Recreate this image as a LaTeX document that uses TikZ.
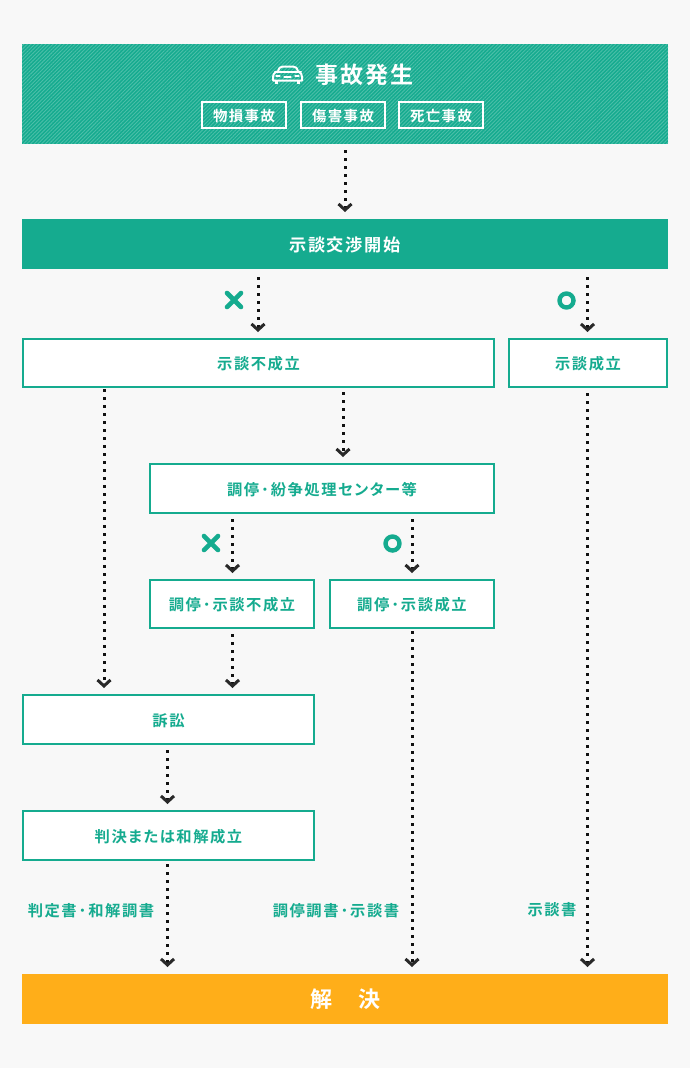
\documentclass[tikz,border=0pt]{standalone}
\usepackage{fontspec}
\setmainfont{Noto Sans CJK JP}[RawFeature={+palt},LetterSpace=10,BoldFont={Noto Sans CJK JP Bold}]
\usetikzlibrary{arrows.meta,patterns.meta,shapes.misc}
\definecolor{teal}{HTML}{15AB8F}
\definecolor{tealpale}{HTML}{4CBFA9}
\definecolor{amber}{HTML}{FFAE19}
\definecolor{paper}{HTML}{F8F8F8}
\definecolor{ink}{HTML}{111111}
% lighter, slightly spaced separator dot between words
\newcommand{\sepdot}{\kern2pt{\mdseries ・}\kern2pt}
\tikzset{
  x=1pt,y=-1pt,
  label15/.style={font=\fontsize{15.3}{15.3}\selectfont\bfseries,text=teal,inner sep=0pt,text height=15pt,text depth=1.2pt},
  stepbox/.style={draw=teal,line width=2pt,fill=white,outer sep=0pt,inner sep=0pt,label15},
  band/.style={fill=teal,minimum width=646pt,minimum height=50pt,outer sep=0pt,text=white,inner sep=0pt},
  tagbox/.style={draw=white,line width=2pt,minimum width=84pt,minimum height=26pt,outer sep=1pt,inner sep=0pt,
    text=white,font=\fontsize{14.4}{14.4}\selectfont\bfseries,text height=13.5pt,text depth=1pt},
  flow/.style={draw=ink,line width=3pt,dash pattern=on 3pt off 5pt,shorten >=7pt,
    -{Straight Barb[length=6pt,width=13pt,line width=3pt,color=ink!90]}},
  nomark/.style={cross out,draw=teal,line width=4.6pt,minimum size=14pt,inner sep=0pt,outer sep=0pt,line cap=round},
  yesmark/.style={circle,draw=teal,line width=4.4pt,minimum size=14pt,inner sep=0pt,outer sep=0pt},
  gap/.style={shorten <=#1pt}
}
\begin{document}
\begin{tikzpicture}
\useasboundingbox (0,0) rectangle (690,1068);
\fill[paper] (0,0) rectangle (690,1068);

% vertical runs of the connectors
\coordinate (c104) at (104,0);
\coordinate (c167) at (167.5,0);
\coordinate (c232) at (232.5,0);
\coordinate (c258) at (258,0);
\coordinate (c343) at (343,0);
\coordinate (c345) at (345,0);
\coordinate (c411) at (412,0);
\coordinate (c587) at (587.5,0);

% header band with its hatching, trimmed to a clean lower edge
\fill[teal] (22,44) rectangle (668,144);
\fill[pattern={Lines[angle=45,distance=2.6pt,line width=0.9pt]},pattern color=tealpale] (22,44) rectangle (668,144);
\fill[paper] (20,144) rectangle (670,147);
\coordinate (head) at (345,144);
\node[text=white,inner sep=0pt,font=\fontsize{23}{23}\selectfont\bfseries] (title) at (364.5,75) {事故発生};
\node[tagbox] (tagA) at (244,115) {物損事故};
\node[tagbox] (tagB) at (343,115) {傷害事故};
\node[tagbox] (tagC) at (441,115) {死亡事故};

% car icon
\begin{scope}[draw=white,line width=2pt,line join=round,line cap=round]
  \draw (278,71.5) .. controls (279,68) and (280,66.5) .. (283,66.5) -- (293,66.5)
        .. controls (296,66.5) and (297,68) .. (298,71.5);
  \draw (275,71.5) -- (301,71.5);
  \draw (276,71.5) .. controls (274,73) and (273,75) .. (273,77) -- (273,80.5) -- (302,80.5) -- (302,77)
        .. controls (302,75) and (301,73) .. (299,71.5);
  \draw[line width=2.8pt,line cap=butt] (276.5,80.5) -- (276.5,84) (298.5,80.5) -- (298.5,84);
  \draw[line width=1.2pt] (276,76) -- (280,76) (284,77) -- (291,77) (295,76) -- (299,76);
\end{scope}

% process steps
\node[band,font=\fontsize{17.2}{17.2}\selectfont\bfseries,text height=16.5pt,text depth=1.2pt] (talks) at (345,244) {示談交渉開始};
\node[stepbox,minimum width=471pt,minimum height=48pt] (fail) at (258.5,363) {示談不成立};
\node[stepbox,minimum width=158pt,minimum height=48pt] (ok) at (588,363) {示談成立};
\node[stepbox,minimum width=344pt,minimum height=49pt] (adr) at (322,488.5) {調停\sepdot 紛争処理センター等};
\node[stepbox,minimum width=164pt,minimum height=48pt] (adrfail) at (232,604) {調停\sepdot 示談不成立};
\node[stepbox,minimum width=164pt,minimum height=48pt] (adrok) at (412,604) {調停\sepdot 示談成立};
\node[stepbox,minimum width=291pt,minimum height=49pt] (suit) at (168.5,719.5) {訴訟};
\node[stepbox,minimum width=291pt,minimum height=49pt] (ruling) at (168.5,835.5) {判決または和解成立};
\node[band,fill=amber,font=\fontsize{22}{22}\selectfont\bfseries] (end) at (345,999) {\hspace{1pt}解　決};

% outcome marks
\node[nomark] (noA) at (234,300) {};
\node[yesmark] (yesA) at (566.5,300.5) {};
\node[nomark] (noB) at (211,543) {};
\node[yesmark] (yesB) at (392.5,543.5) {};

% document labels
\node[label15] (docA) at (91,910) {判定書\sepdot 和解調書};
\node[label15] (docB) at (336,910) {調停調書\sepdot 示談書};
\node[label15] (docC) at (552,909) {示談書};

% connectors
\draw[flow,gap=6] (head -| c345) -- (talks.north -| c345);
\draw[flow,gap=8] (talks.south -| c258) -- (fail.north -| c258);
\draw[flow,gap=8] (talks.south -| c587) -- (ok.north -| c587);
\draw[flow,gap=2] (fail.south -| c104) -- (suit.north -| c104);
\draw[flow,gap=5] (fail.south -| c343) -- (adr.north -| c343);
\draw[flow,gap=6] (ok.south -| c587) -- (end.north -| c587);
\draw[flow,gap=6] (adr.south -| c232) -- (adrfail.north -| c232);
\draw[flow,gap=6] (adr.south -| c411) -- (adrok.north -| c411);
\draw[flow,gap=6] (adrfail.south -| c232) -- (suit.north -| c232);
\draw[flow,gap=3] (adrok.south -| c411) -- (end.north -| c411);
\draw[flow,gap=6] (suit.south -| c167) -- (ruling.north -| c167);
\draw[flow,gap=4] (ruling.south -| c167) -- (end.north -| c167);
\end{tikzpicture}
\end{document}
